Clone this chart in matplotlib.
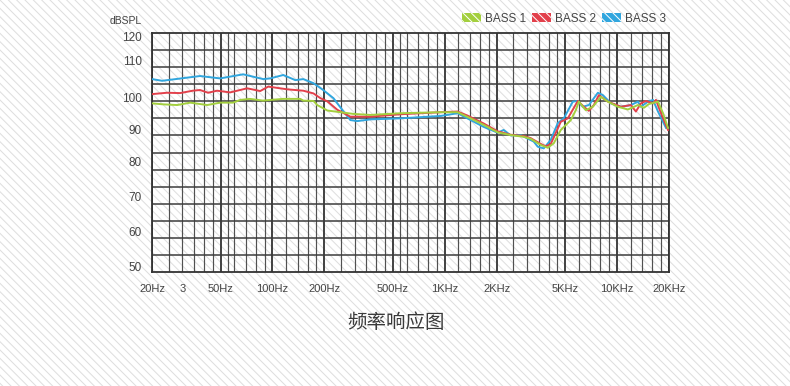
import matplotlib
matplotlib.use('Agg')
import matplotlib.pyplot as plt
from matplotlib.patches import Patch, Rectangle

plt.rcParams['font.family'] = ['Liberation Sans', 'DejaVu Sans']
plt.rcParams['hatch.linewidth'] = 0.7

# ---- data ----
f_bass1 = [20, 23.3, 28, 33.3, 41.8, 49.7, 59, 65, 74, 88, 115, 145, 151, 173, 182, 208,
           248, 295, 370, 553, 945, 1186, 1412, 1681, 2027, 2412, 2870, 3154, 3606, 3958,
           4290, 4711, 5386, 5760, 5995, 6583, 7228, 8048, 8838, 10100, 11550, 13210,
           14310, 15300, 17260, 18460, 19730]
db_bass1 = [99.4, 99.1, 98.9, 99.6, 98.9, 99.6, 99.6, 100.4, 100.7, 100.2, 100.7, 100.7,
            100.2, 100.1, 98.9, 97.3, 96.8, 96.3, 96.0, 96.5, 96.8, 96.8, 95.0, 93.1, 90.9,
            90.1, 89.6, 89.0, 87.2, 86.4, 87.7, 91.6, 94.5, 97.4, 99.9, 97.4, 98.4, 101.3,
            99.9, 98.4, 97.6, 98.9, 98.1, 99.2, 99.9, 96.5, 92.2]

f_bass2 = [20, 24.4, 29.1, 34.5, 38, 42.3, 47.7, 56.8, 71.3, 84.9, 94.5, 122, 151, 173, 190,
           208, 238, 283, 370, 553, 945, 1186, 1357, 1681, 2027, 2412, 2870, 3154, 3606,
           3855, 4121, 4711, 5174, 5916, 6410, 6854, 7328, 7834, 8838, 10520, 12020, 12850,
           13750, 14700, 16150, 16810, 17970, 19730]
db_bass2 = [102.1, 102.5, 102.4, 103.1, 103.3, 102.5, 103.1, 102.6, 103.8, 103.0, 104.3,
            103.5, 103.1, 102.3, 100.9, 100.0, 97.5, 95.5, 95.5, 96.2, 96.8, 97.0, 95.8, 93.5,
            91.2, 90.2, 89.8, 89.2, 87.5, 86.8, 87.5, 94.0, 95.0, 100.1, 98.4, 97.2, 98.9,
            101.8, 99.9, 98.4, 98.9, 97.0, 99.4, 100.1, 99.4, 100.4, 96.5, 91.6]

f_bass3 = [20, 22.9, 38, 49.7, 67.6, 88.4, 97, 115.5, 135.7, 151, 173, 197, 226, 255, 283,
           311, 370, 553, 945, 1186, 1412, 1681, 2027, 2196, 2412, 2758, 3282, 3463, 3752,
           4121, 4526, 4904, 5533, 5916, 6325, 6854, 7732, 8266, 9201, 10520, 12020, 13210,
           13750, 15100, 16150, 17260, 19210]
db_bass3 = [106.5, 106.0, 107.4, 106.7, 107.9, 106.5, 106.7, 107.7, 106.2, 106.5, 105.3,
            103.3, 100.9, 97.4, 94.5, 94.2, 94.7, 95.0, 95.7, 96.5, 94.5, 92.5, 90.8, 91.6,
            90.0, 90.1, 88.2, 86.7, 86.2, 88.7, 93.6, 95.0, 99.9, 100.1, 98.4, 98.9, 102.5,
            101.8, 99.4, 98.4, 98.9, 99.9, 98.4, 99.9, 100.4, 97.0, 92.2]

series_names = ['BASS 1', 'BASS 2', 'BASS 3']
series_colors = ['#a3cf3e', '#e2404b', '#31a6de']

x_ticks = [20, 30, 50, 100, 200, 500, 1000, 2000, 5000, 10000, 20000]
x_ticklabels = ['20Hz', '3', '50Hz', '100Hz', '200Hz', '500Hz', '1KHz', '2KHz', '5KHz',
                '10KHz', '20KHz']
y_labels = [50, 60, 70, 80, 90, 100, 110, 120]

grid_major = [20, 50, 100, 200, 500, 1000, 2000, 5000, 10000, 20000]
grid_minor = [25, 30, 35, 40, 45, 55, 60, 70, 80, 90, 120, 140, 160, 180,
              250, 300, 350, 400, 450, 550, 600, 700, 800, 900,
              1200, 1400, 1600, 1800, 2500, 3000, 3500, 4000, 4500,
              6000, 7000, 8000, 9000, 12000, 14000, 16000, 18000]

# ---- figure ----
fig = plt.figure(figsize=(7.9, 3.86), dpi=100)

# striped background
bg = fig.add_axes([0, 0, 1, 1], zorder=-5)
bg.set_axis_off()
bg.add_patch(Rectangle((0, 0), 1, 1, transform=bg.transAxes, facecolor='white',
                       edgecolor='#dddddd', hatch='\\\\\\\\', linewidth=0))

ax = fig.add_axes([152 / 790, 1 - 272 / 386, 517 / 790, 239 / 386])
ax.set_facecolor('none')
ax.set_xscale('log')
ax.set_xlim(20, 20000)
ax.set_ylim(50, 120)

for f in grid_minor:
    ax.axvline(f, color='#505050', lw=0.85, zorder=1)
for f in grid_major:
    ax.axvline(f, color='#333333', lw=1.3, zorder=1)
for v in range(55, 120, 5):
    ax.axhline(v, color='#3c3c3c', lw=1.1, zorder=1)

for s in ax.spines.values():
    s.set_color('#333333')
    s.set_linewidth(1.3)

# curves (blue under red under green)
ax.plot(f_bass3, db_bass3, color=series_colors[2], lw=1.4, zorder=3)
ax.plot(f_bass2, db_bass2, color=series_colors[1], lw=1.4, zorder=4)
ax.plot(f_bass1, db_bass1, color=series_colors[0], lw=1.4, zorder=5)

ax.set_xticks(x_ticks)
ax.set_xticklabels(x_ticklabels)
ax.xaxis.set_minor_locator(plt.NullLocator())
ax.tick_params(axis='x', length=0, pad=9, labelsize=8, labelcolor='#444444')
ax.set_yticks([])

# y labels sit a little off the grid lines in the original
y_label_pos = [51.2, 61.4, 71.7, 81.9, 91.3, 100.7, 111.5, 118.5]
for v, p in zip(y_labels, y_label_pos):
    ax.text(-0.02, p, str(v), transform=ax.get_yaxis_transform(), ha='right', va='center',
            fontsize=8.5, color='#444444')
ax.text(-0.02, 1.05, 'dBSPL', transform=ax.transAxes, ha='right', va='center',
        fontsize=7.5, color='#444444')

handles = [Patch(facecolor=c, edgecolor='white', hatch='\\\\\\\\', lw=0) for c in series_colors]
ax.legend(handles, series_names, ncol=3, frameon=False, loc='lower right',
          bbox_to_anchor=(0.995, 1.035), borderaxespad=0, borderpad=0,
          handlelength=1.6, handleheight=0.85, handletextpad=0.35, columnspacing=0.5,
          prop={'size': 8.5}, labelcolor='#444444')

fig.text(396 / 790, 1 - 323 / 386, '频率响应图', ha='center', va='center', fontsize=14,
         color='#3a3a3a', family=['Noto Sans CJK SC', 'DejaVu Sans'])

fig.savefig('out.png', dpi=100)
